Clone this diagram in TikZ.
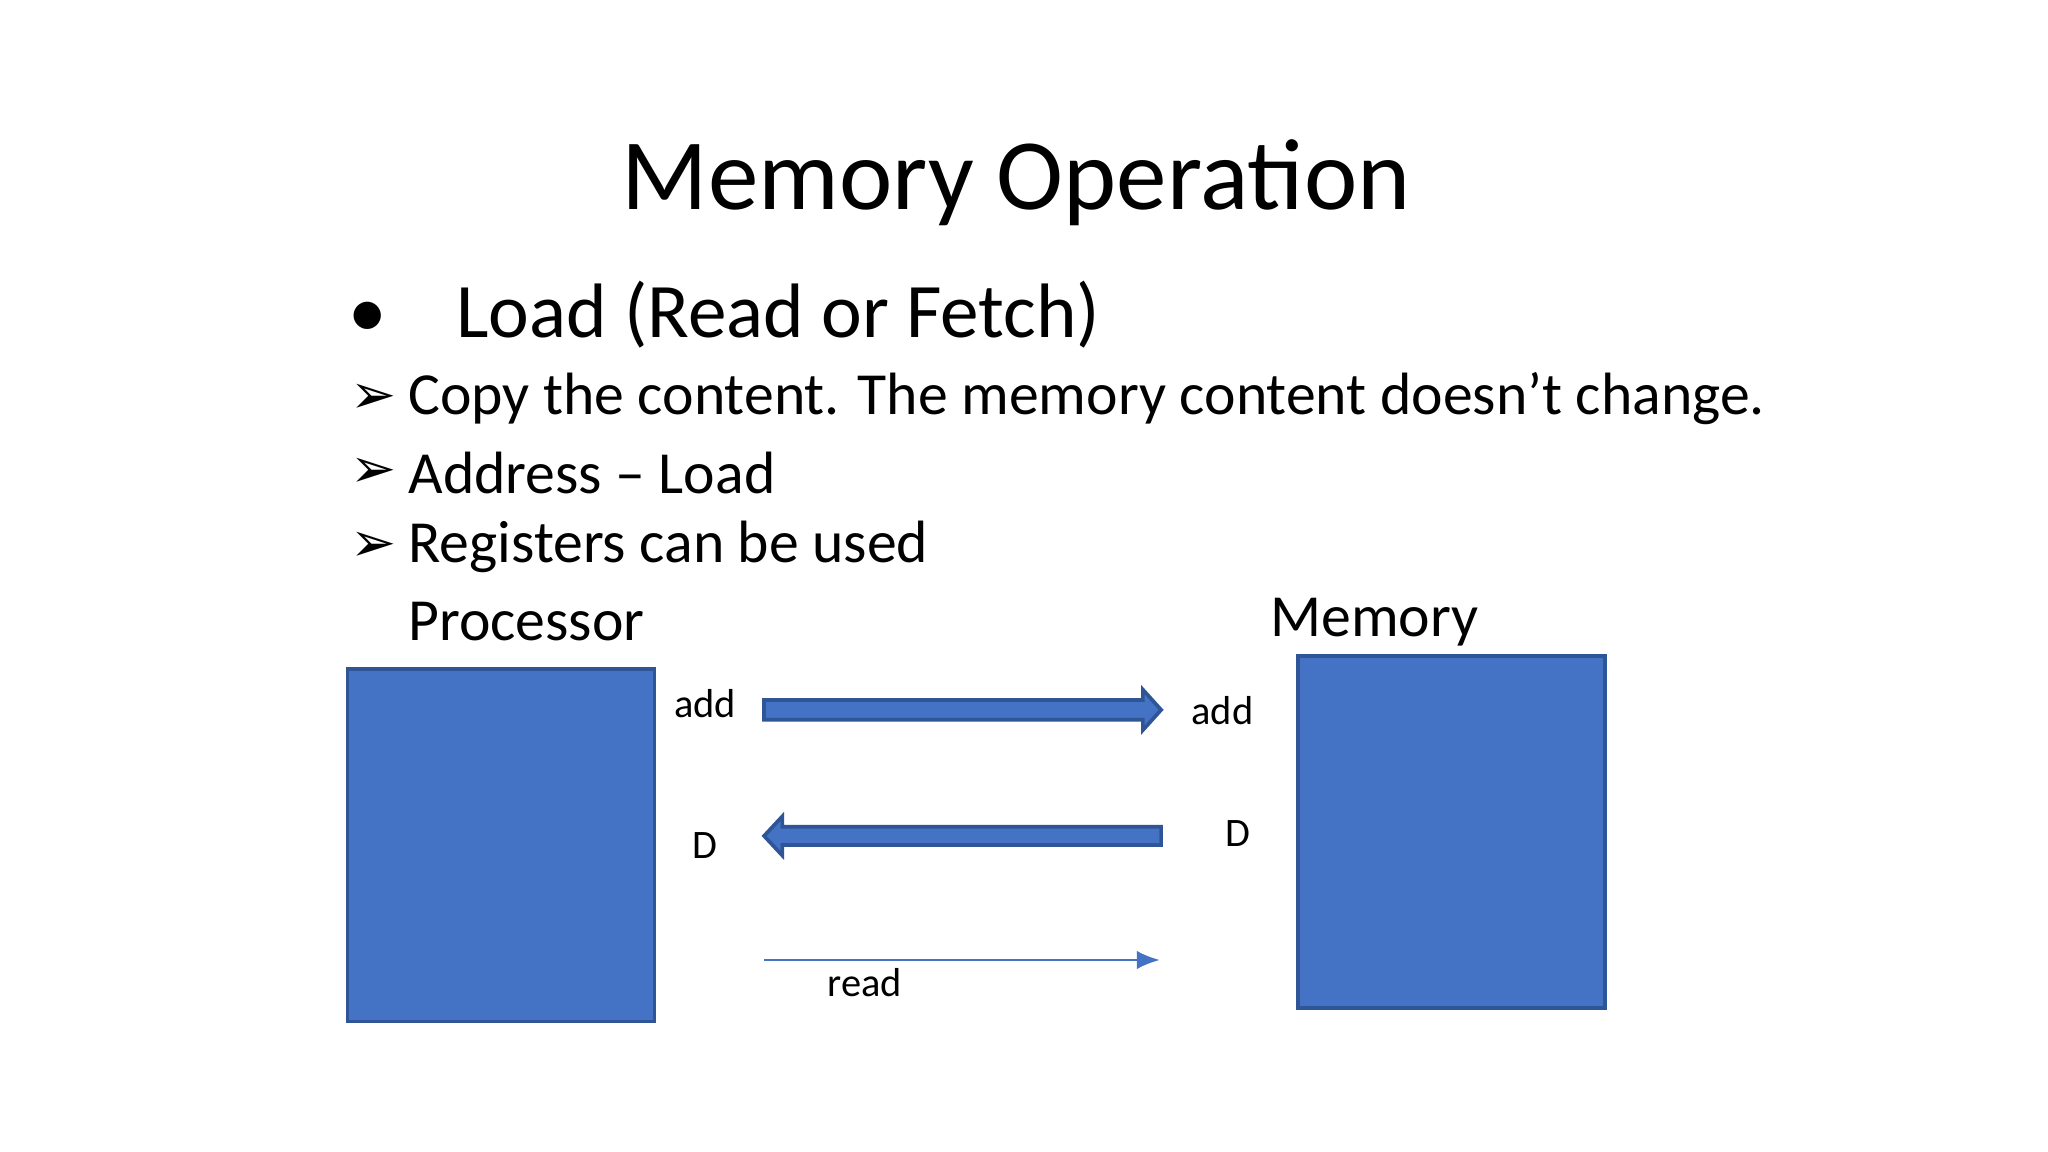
\documentclass[tikz,border=0pt]{standalone}
\usepackage{fontspec}
\setmainfont{Carlito}
\newfontfamily\dv{DejaVu Sans}
\usetikzlibrary{arrows.meta}
\definecolor{boxfill}{HTML}{4472C4}
\definecolor{boxline}{HTML}{2F5597}
\begin{document}
\begin{tikzpicture}[x=0.01cm,y=-0.01cm,
  blk/.style={fill=boxfill,draw=boxline,line width=0.8pt},
  big/.style={font=\fontsize{16.8}{18}\selectfont,anchor=west,inner sep=0},
  sub/.style={font=\fontsize{13}{15}\selectfont,anchor=west,inner sep=0},
  lbl/.style={font=\fontsize{8.8}{10}\selectfont,inner sep=0}]
\fill[white] (0,0) rectangle (1568,882);
\node[font=\fontsize{22}{26}\selectfont,inner sep=0] (title) at (778,140) {Memory Operation};
\node[big] (b0) at (266,241) {\textbullet\hspace{0.9em}Load (Read or Fetch)};
\node[sub,font=\dv\fontsize{12}{14}\selectfont] (a1) at (268,305) {➢};
\node[sub] (s1) at (312,305) {Copy the content. The memory content doesn’t change.};
\node[sub,font=\dv\fontsize{12}{14}\selectfont] (a2) at (268,362) {➢};
\node[sub] (s2) at (312,362) {Address – Load};
\node[sub,font=\dv\fontsize{12}{14}\selectfont] (a3) at (268,419) {➢};
\node[sub] (s3) at (312,419) {Registers can be used};
\node[sub] (plab) at (312,476) {Processor};
\node[sub] (mlab) at (972,476) {Memory};
\draw[blk] (266,512) rectangle (501,782);
\draw[blk] (994,502) rectangle (1229,772);
\node[lbl] (add1) at (540,539) {add};
\node[lbl] (add2) at (936,544) {add};
\node[lbl] (d1) at (540,647) {D};
\node[lbl] (d2) at (948,638) {D};
\node[lbl] (rd) at (662,752) {read};
\draw[blk] (585,536) -- (875,536) -- (875,528) -- (889,543.5) -- (875,559) -- (875,551) -- (585,551) -- cycle;
\draw[blk] (889,633) -- (599,633) -- (599,625) -- (585,640) -- (599,655) -- (599,647) -- (889,647) -- cycle;
\coordinate (r1) at (585,735);
\coordinate (r2) at (888,735);
\draw[boxfill,line width=0.5pt,-{Latex[length=5pt,width=4pt]}] (r1) -- (r2);
\end{tikzpicture}
\end{document}
